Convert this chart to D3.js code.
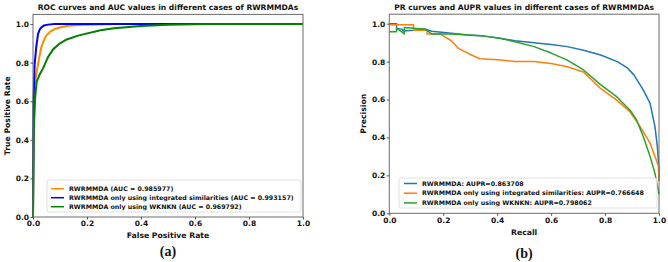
<!DOCTYPE html>
<html>
<head>
<meta charset="utf-8">
<script src="https://cdn.jsdelivr.net/npm/d3@7"></script>
<style>
  body { margin: 0; background: #fff; }
  text { font-family: "DejaVu Sans", sans-serif; font-weight: bold; fill: #111; }
  .axis path { display: none; }
  .axis line { stroke: #555; }
  .panel-tag { font-family: "Liberation Serif", serif; font-size: 14px; }
</style>
</head>
<body>
<svg width="668" height="262"></svg>
<script>
// ---- data ----
const tickValues = [0, 0.2, 0.4, 0.6, 0.8, 1.0];

const rocNames = [
  "RWRMMDA (AUC = 0.985977)",
  "RWRMMDA only using integrated similarities (AUC = 0.993157)",
  "RWRMMDA only using WKNKN (AUC = 0.969792)"
];
const rocColors = ["#ff8c00", "#0000ff", "#008000"];

// [fpr, tpr]
const rocFull = [[0,0],[0.003,0.55],[0.007,0.68],[0.012,0.74],[0.0185,0.79],[0.025,0.84],
  [0.031,0.88],[0.04,0.915],[0.049,0.94],[0.065,0.962],[0.08,0.974],[0.1,0.982],
  [0.13,0.991],[0.2,0.997],[0.3,1],[1,1]];
const rocIntegrated = [[0,0],[0.002,0.6],[0.006,0.79],[0.012,0.88],[0.0185,0.948],
  [0.025,0.972],[0.031,0.983],[0.04,0.992],[0.056,0.997],[0.08,1],[1,1]];
const rocWknkn = [[0,0],[0.003,0.45],[0.008,0.62],[0.0136,0.7],[0.025,0.74],[0.037,0.77],
  [0.056,0.83],[0.075,0.87],[0.1,0.9],[0.125,0.92],[0.167,0.94],[0.25,0.968],
  [0.3,0.978],[0.4,0.99],[0.5,0.996],[0.65,1],[1,1]];

const prNames = [
  "RWRMMDA: AUPR=0.863708",
  "RWRMMDA only using integrated similarities: AUPR=0.766648",
  "RWRMMDA only using WKNKN: AUPR=0.798062"
];
const prColors = ["#1f77b4", "#ff7f0e", "#2ca02c"];

// [recall, precision]
const prFull = [[0,1],[0.027,1],[0.027,0.975],[0.05,0.97],[0.05,0.962],[0.09,0.966],
  [0.132,0.972],[0.157,0.96],[0.23,0.95],[0.29,0.94],[0.34,0.937],[0.41,0.923],
  [0.466,0.91],[0.537,0.9],[0.6,0.89],[0.66,0.879],[0.72,0.86],[0.784,0.835],
  [0.845,0.8],[0.88,0.77],[0.907,0.73],[0.942,0.65],[0.967,0.58],[0.985,0.457],
  [0.994,0.35],[1,0.228],[1,0.17]];
const prIntegrated = [[0,0.995],[0.09,0.995],[0.09,0.965],[0.14,0.965],[0.14,0.945],
  [0.19,0.945],[0.23,0.91],[0.256,0.87],[0.305,0.835],[0.335,0.815],[0.404,0.81],
  [0.466,0.8],[0.537,0.8],[0.6,0.79],[0.66,0.773],[0.72,0.745],[0.782,0.66],
  [0.843,0.597],[0.892,0.536],[0.93,0.457],[0.967,0.37],[0.985,0.3],[0.998,0.25],
  [1,0.17]];
const prWknkn = [[0,0.958],[0.027,0.958],[0.027,0.976],[0.056,0.946],[0.056,0.98],
  [0.1,0.975],[0.132,0.972],[0.157,0.946],[0.23,0.946],[0.34,0.937],[0.41,0.923],
  [0.466,0.905],[0.537,0.879],[0.6,0.845],[0.66,0.808],[0.72,0.756],[0.782,0.68],
  [0.843,0.615],[0.892,0.545],[0.917,0.492],[0.942,0.404],[0.967,0.3],[0.985,0.21],
  [0.997,0.123],[1,0.1]];

// ---- layout ----
const svg = d3.select("svg");

const panels = [
  {
    left: 33, right: 303, top: 14.4, bottom: 217,
    title: "ROC curves and AUC values in different cases of RWRMMDAs",
    xLabel: "False Positive Rate", yLabel: "True Positive Rate", tag: "(a)",
    series: [rocFull, rocIntegrated, rocWknkn], names: rocNames, colors: rocColors,
    lineWidth: 2, yLabelX: 10, xLabelY: 238, tagY: 256,
    legend: { x: 47, y: 180, w: 254, h: 32, lineX: 51, textX: 69, rowY: 188.7, rowH: 9 }
  },
  {
    left: 389.3, right: 659, top: 14.2, bottom: 213.3,
    title: "PR curves and AUPR values in different cases of RWRMMDAs",
    xLabel: "Recall", yLabel: "Precision", tag: "(b)",
    series: [prFull, prIntegrated, prWknkn], names: prNames, colors: prColors,
    lineWidth: 1.5, yLabelX: 366, xLabelY: 235, tagY: 258,
    legend: { x: 399, y: 178, w: 258, h: 30, lineX: 404, textX: 422, rowY: 183.5, rowH: 9.7 }
  }
];

panels.forEach(p => {
  const x = d3.scaleLinear().domain([0, 1]).range([p.left, p.right]);
  const y = d3.scaleLinear().domain([0, 1.05]).range([p.bottom, p.top]);
  const g = svg.append("g");

  // curves
  const line = d3.line().x(d => x(d[0])).y(d => y(d[1]));
  g.selectAll("path.curve").data(p.series).enter().append("path")
    .attr("class", "curve")
    .attr("fill", "none")
    .attr("stroke", (d, i) => p.colors[i])
    .attr("stroke-width", p.lineWidth)
    .attr("stroke-linejoin", "round")
    .attr("d", line);

  // frame
  g.append("rect")
    .attr("x", p.left).attr("y", p.top)
    .attr("width", p.right - p.left).attr("height", p.bottom - p.top)
    .attr("fill", "none").attr("stroke", "#6b6b6b").attr("stroke-width", 1);

  // axes
  const fmt = d3.format(".1f");
  const xAxis = d3.axisBottom(x).tickValues(tickValues).tickFormat(fmt)
    .tickSize(2.5).tickPadding(1.5);
  const yAxis = d3.axisLeft(y).tickValues(tickValues).tickFormat(fmt)
    .tickSize(2.5).tickPadding(1.5);
  g.append("g").attr("class", "axis")
    .attr("transform", `translate(0,${p.bottom})`).call(xAxis)
    .selectAll("text").style("font-size", "7.5px").attr("fill", "#111");
  g.append("g").attr("class", "axis")
    .attr("transform", `translate(${p.left},0)`).call(yAxis)
    .selectAll("text").style("font-size", "7.5px").attr("fill", "#111");

  // titles and labels
  const cx = (p.left + p.right) / 2;
  g.append("text").attr("x", cx).attr("y", 9.5)
    .attr("text-anchor", "middle").style("font-size", "7.6px").text(p.title);
  g.append("text").attr("x", cx).attr("y", p.xLabelY)
    .attr("text-anchor", "middle").style("font-size", "7.7px").text(p.xLabel);
  g.append("text")
    .attr("transform", `translate(${p.yLabelX},${(p.top + p.bottom) / 2}) rotate(-90)`)
    .attr("text-anchor", "middle").style("font-size", "7.7px").text(p.yLabel);
  g.append("text").attr("class", "panel-tag")
    .attr("x", cx).attr("y", p.tagY).attr("text-anchor", "middle").text(p.tag);

  // legend
  const L = p.legend;
  g.append("rect")
    .attr("x", L.x).attr("y", L.y).attr("width", L.w).attr("height", L.h)
    .attr("rx", 2).attr("fill", "rgba(255,255,255,0.85)")
    .attr("stroke", "#d8d8d8").attr("stroke-width", 0.8);
  const rows = g.selectAll("g.leg").data(p.names).enter().append("g")
    .attr("class", "leg")
    .attr("transform", (d, i) => `translate(0,${L.rowY + i * L.rowH})`);
  rows.append("line")
    .attr("x1", L.lineX).attr("x2", L.lineX + 13)
    .attr("stroke", (d, i) => p.colors[i]).attr("stroke-width", 1.5);
  rows.append("text")
    .attr("x", L.textX).attr("dy", "0.35em")
    .style("font-size", "6.3px").text(d => d);
});
</script>
</body>
</html>
